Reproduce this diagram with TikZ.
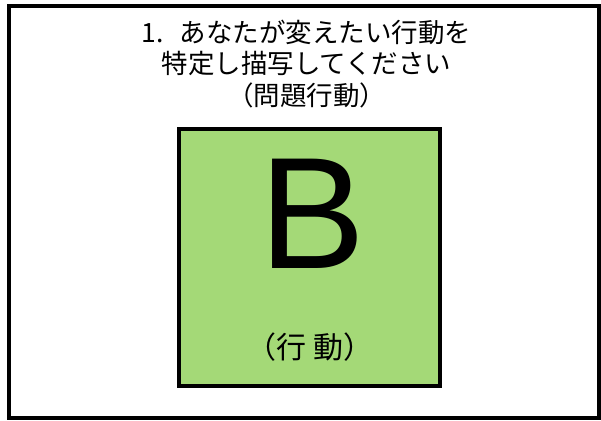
\documentclass[tikz,border=0pt]{standalone}
\usepackage{fontspec}
\setmainfont{Liberation Sans}
\newfontfamily\jp{Noto Sans CJK JP}
\definecolor{boxgreen}{RGB}{164,217,119}
\begin{document}
\begin{tikzpicture}[x=1pt,y=-1pt,
  frame/.style={draw=black,line width=4pt},
  greenbox/.style={draw=black,line width=4pt,fill=boxgreen,minimum width=261pt,minimum height=257pt,inner sep=0pt},
  title/.style={align=center,inner sep=0pt,font=\jp\fontsize{26.5}{31.5}\selectfont},
  bigletter/.style={inner sep=0pt,font=\fontsize{159}{159}\selectfont},
  sublabel/.style={inner sep=0pt,font=\jp\fontsize{30}{32}\selectfont}]
\useasboundingbox (0,0) rectangle (601,420);
\draw[frame] (9,6) rectangle (599,418);
\node[greenbox] (box) at (309.8,257.9) {};
\node[title] (ttl) at (306.5,64) {1.\hspace{0.6em}あなたが変えたい行動を\\特定し描写してください\\（問題行動）};
\node[bigletter] (B) at (312.5,214) {B};
\node[sublabel] (lbl) at (310,347.5) {（行 動）};
\end{tikzpicture}
\end{document}
